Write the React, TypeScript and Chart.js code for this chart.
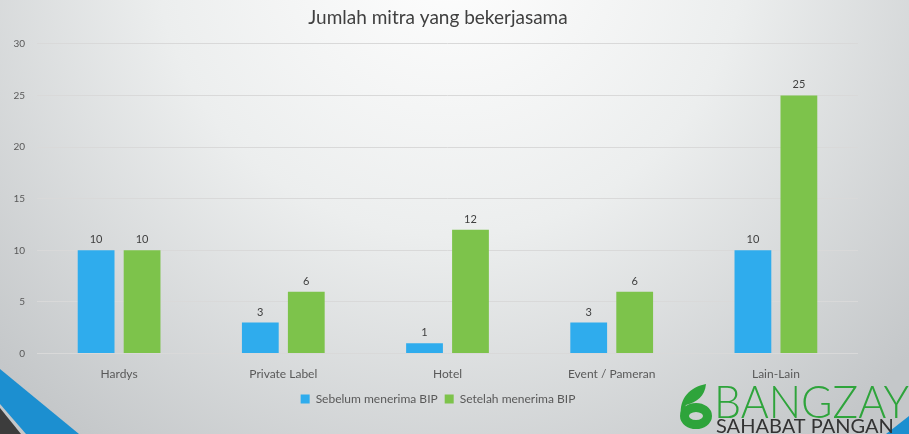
import React, { useEffect, useRef } from "react";
import { Chart, registerables } from "chart.js";

Chart.register(...registerables);

const categories = ["Hardys", "Private Label", "Hotel", "Event / Pameran", "Lain-Lain"];
const sebelum = [10, 3, 1, 3, 10];
const setelah = [10, 6, 12, 6, 25];
const seriesNames = ["Sebelum menerima BIP", "Setelah menerima BIP"];
const titleText = "Jumlah mitra yang bekerjasama";
const logoTop = "BANGZAY";
const logoBottom = "SAHABAT PANGAN";

const FONT = "Lato, 'Open Sans', sans-serif";

const backgroundPlugin = {
  id: "bgDeco",
  beforeDraw(chart: any) {
    const { ctx, width, height } = chart;
    ctx.save();
    const g = ctx.createRadialGradient(450, -60, 30, 450, -60, 620);
    g.addColorStop(0, "#fdfdfd");
    g.addColorStop(0.45, "#eceeee");
    g.addColorStop(1, "#c4c7c9");
    ctx.fillStyle = g;
    ctx.fillRect(0, 0, width, height);
    ctx.fillStyle = "#1c8fd0";
    ctx.beginPath();
    ctx.moveTo(0, 369);
    ctx.lineTo(79, 434);
    ctx.lineTo(26, 434);
    ctx.lineTo(0, 404);
    ctx.closePath();
    ctx.fill();
    ctx.fillStyle = "#3c3c3c";
    ctx.beginPath();
    ctx.moveTo(0, 408);
    ctx.lineTo(21, 434);
    ctx.lineTo(0, 434);
    ctx.closePath();
    ctx.fill();
    ctx.fillStyle = "#1c8fd0";
    ctx.beginPath();
    ctx.moveTo(886, 434);
    ctx.lineTo(909, 434);
    ctx.lineTo(909, 416);
    ctx.closePath();
    ctx.fill();
    ctx.restore();
  },
  afterDraw(chart: any) {
    const { ctx } = chart;
    ctx.save();
    ctx.strokeStyle = "#2ea43b";
    ctx.fillStyle = "#2ea43b";
    ctx.lineWidth = 9;
    ctx.beginPath();
    ctx.ellipse(696, 416, 11.5, 8.5, 0, 0, Math.PI * 2);
    ctx.stroke();
    ctx.beginPath();
    ctx.moveTo(681, 416);
    ctx.bezierCurveTo(679, 398, 690, 387, 706, 384);
    ctx.bezierCurveTo(705, 396, 697, 402, 686, 405);
    ctx.closePath();
    ctx.fill();
    ctx.fillStyle = "#2ea43b";
    ctx.font = `300 46px ${FONT}`;
    ctx.textBaseline = "alphabetic";
    ctx.textAlign = "left";
    ctx.fillText(logoTop, 714, 418, 195);
    ctx.fillStyle = "#333333";
    ctx.font = `400 20px ${FONT}`;
    ctx.fillText(logoBottom, 716, 433, 180);
    ctx.restore();
  },
};

const labelPlugin = {
  id: "valueLabels",
  afterDatasetsDraw(chart: any) {
    const { ctx } = chart;
    ctx.save();
    ctx.font = `11px ${FONT}`;
    ctx.fillStyle = "#404040";
    ctx.textAlign = "center";
    ctx.textBaseline = "bottom";
    chart.data.datasets.forEach((ds: any, i: number) => {
      const meta = chart.getDatasetMeta(i);
      meta.data.forEach((el: any, j: number) => {
        ctx.fillText(String(ds.data[j]), el.x, el.y - 5);
      });
    });
    ctx.restore();
  },
};

export default function App() {
  const ref = useRef<HTMLCanvasElement>(null);
  useEffect(() => {
    if (!ref.current) return;
    const chart = new Chart(ref.current, {
      type: "bar",
      data: {
        labels: categories,
        datasets: [
          { label: seriesNames[0], data: sebelum, backgroundColor: "#2faced", barPercentage: 0.8, categoryPercentage: 0.56 },
          { label: seriesNames[1], data: setelah, backgroundColor: "#7dc34b", barPercentage: 0.8, categoryPercentage: 0.56 },
        ],
      },
      options: {
        animation: false,
        responsive: false,
        layout: { padding: { left: 0, right: 33, top: 6, bottom: 19 } },
        plugins: {
          title: {
            display: true,
            text: titleText,
            color: "#404040",
            font: { family: FONT, size: 19, weight: "normal" },
            padding: { top: 0, bottom: 15 },
          },
          legend: {
            position: "bottom",
            labels: {
              color: "#595959",
              font: { family: FONT, size: 12 },
              boxWidth: 9,
              boxHeight: 9,
              padding: 7,
            },
          },
          tooltip: { enabled: false },
        },
        scales: {
          x: {
            grid: { display: false },
            border: { display: false },
            ticks: { color: "#595959", font: { family: FONT, size: 12 }, padding: 5 },
          },
          y: {
            min: 0,
            max: 30,
            ticks: { stepSize: 5, color: "#595959", font: { family: FONT, size: 10 }, padding: 12 },
            grid: { color: "#d9d9d9", drawTicks: false },
            border: { display: false },
            afterFit: (s: any) => { s.width = 37; },
          },
          y2: {
            position: "right",
            min: 0,
            max: 30,
            grid: { display: false },
            border: { display: false },
            ticks: { display: false },
            afterFit: (s: any) => { s.width = 18; },
          },
        },
      },
      plugins: [backgroundPlugin, labelPlugin],
    });
    return () => chart.destroy();
  }, []);
  return (
    <div style={{ position: "fixed", left: 0, top: 0, width: 909, height: 434 }}>
      <canvas ref={ref} width={909} height={434} style={{ display: "block" }} />
    </div>
  );
}
